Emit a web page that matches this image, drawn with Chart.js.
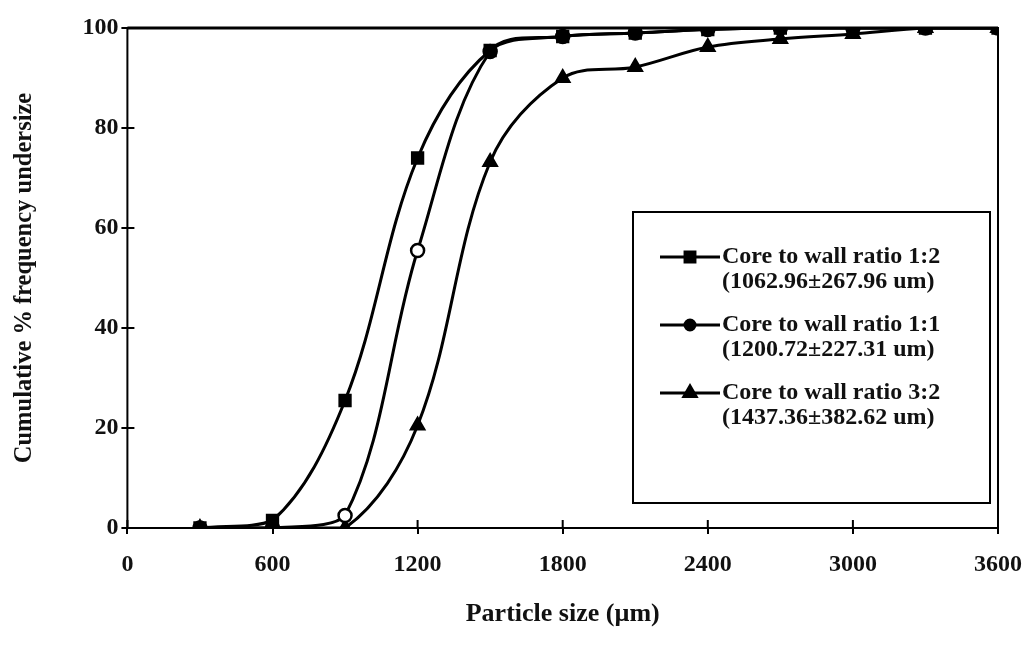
<!DOCTYPE html>
<html>
<head>
<meta charset="utf-8">
<script src="https://cdn.jsdelivr.net/npm/chart.js@4"></script>
<style>
  html, body { margin: 0; padding: 0; background: #fff; overflow: hidden; }
  #wrap { width: 1028px; height: 654px; position: relative; }
</style>
</head>
<body>
<div id="wrap"><canvas id="sizeChart"></canvas></div>
<script>
// particle size classes (um)
const sizes = [300, 600, 900, 1200, 1500, 1800, 2100, 2400, 2700, 3000, 3300, 3600];

// cumulative % undersize
const ratio12 = [0, 1.5, 25.5, 74, 95.5, 98.3, 99, 99.7, 100, 100, 100, 100];
const ratio11 = [0, 0, 2.5, 55.5, 95.3, 98.3, 99, 99.7, 100, 100, 100, 100];
const ratio32 = [0, 0, 0, 20.5, 73.2, 90, 92.2, 96.2, 97.8, 98.8, 100, 100];

const seriesLabels = [
    ['Core to wall ratio 1:2', '(1062.96\u00b1267.96 um)'],
    ['Core to wall ratio 1:1', '(1200.72\u00b1227.31 um)'],
    ['Core to wall ratio 3:2', '(1437.36\u00b1382.62 um)']
];

const xTicks = [0, 600, 1200, 1800, 2400, 3000, 3600];
const yTicks = [0, 20, 40, 60, 80, 100];

const FONT = "'Liberation Serif', 'Times New Roman', serif";

function toPoints(vals) {
    return sizes.map((s, i) => ({ x: s, y: vals[i] }));
}

// box round the plot, plus the inner half of each tick mark
const framePlugin = {
    id: 'frame',
    afterDatasetsDraw(chart) {
        const { ctx, chartArea: a, scales } = chart;
        ctx.save();
        ctx.strokeStyle = '#000';
        ctx.lineWidth = 2;
        ctx.strokeRect(a.left, a.top, a.right - a.left, a.bottom - a.top);
        ctx.lineWidth = 3;
        ctx.beginPath();
        ctx.moveTo(a.left, a.top);
        ctx.lineTo(a.right, a.top);
        ctx.stroke();
        ctx.lineWidth = 2;
        ctx.beginPath();
        xTicks.forEach(v => {
            const px = scales.x.getPixelForValue(v);
            ctx.moveTo(px, a.bottom);
            ctx.lineTo(px, a.bottom - 8);
        });
        yTicks.forEach(v => {
            const py = scales.y.getPixelForValue(v);
            ctx.moveTo(a.left, py);
            ctx.lineTo(a.left + 7, py);
        });
        ctx.stroke();
        ctx.restore();
    }
};

// legend drawn inside the plot, Excel style
const boxLegend = {
    id: 'boxLegend',
    afterDraw(chart, args, opts) {
        const { ctx } = chart;
        ctx.save();
        ctx.fillStyle = '#fff';
        ctx.fillRect(opts.left, opts.top, opts.width, opts.height);
        ctx.strokeStyle = '#000';
        ctx.lineWidth = 2;
        ctx.strokeRect(opts.left, opts.top, opts.width, opts.height);

        ctx.font = 'bold 24px ' + FONT;
        ctx.textBaseline = 'middle';
        chart.data.datasets.forEach((ds, i) => {
            const y = opts.top + opts.firstRow + i * opts.rowGap;
            const x0 = opts.left + 27;
            const x1 = x0 + 60;
            ctx.strokeStyle = '#000';
            ctx.lineWidth = 3;
            ctx.beginPath();
            ctx.moveTo(x0, y);
            ctx.lineTo(x1, y);
            ctx.stroke();
            ctx.fillStyle = '#000';
            Chart.helpers.drawPoint(ctx, {
                pointStyle: ds.pointStyle,
                radius: ds.pointStyle === 'circle' ? 5 : 7,
                borderWidth: 1
            }, (x0 + x1) / 2, y);
            ctx.fill();
            ctx.fillStyle = '#111';
            ctx.fillText(seriesLabels[i][0], x1 + 2, y);
            ctx.fillText(seriesLabels[i][1], x1 + 2, y + 25);
        });
        ctx.restore();
    }
};

const baseDs = {
    borderColor: '#000',
    borderWidth: 3,
    tension: 0.35,
    pointBorderColor: '#000',
    pointBorderWidth: 2,
    fill: false
};

const tickFont = { family: FONT, size: 24, weight: 'bold' };

new Chart(document.getElementById('sizeChart'), {
    type: 'line',
    data: {
        datasets: [
            Object.assign({}, baseDs, {
                label: seriesLabels[0].join(' '),
                data: toPoints(ratio12),
                pointStyle: 'rect',
                pointRadius: 8,
                pointBackgroundColor: '#000'
            }),
            Object.assign({}, baseDs, {
                label: seriesLabels[1].join(' '),
                data: toPoints(ratio11),
                pointStyle: 'circle',
                pointRadius: 6.5,
                pointBorderWidth: 2.5,
                pointBackgroundColor: '#fff'
            }),
            Object.assign({}, baseDs, {
                label: seriesLabels[2].join(' '),
                data: toPoints(ratio32),
                pointStyle: 'triangle',
                pointRadius: 8,
                pointBackgroundColor: '#000'
            })
        ]
    },
    options: {
        responsive: true,
        maintainAspectRatio: false,
        animation: false,
        layout: { padding: { top: 28, right: 30, bottom: 24, left: 10 } },
        plugins: {
            legend: { display: false },
            tooltip: { enabled: false },
            boxLegend: {
                left: 633, top: 212, width: 357, height: 291,
                firstRow: 45, rowGap: 68
            }
        },
        scales: {
            x: {
                type: 'linear',
                min: 0,
                max: 3600,
                afterBuildTicks: (axis) => { axis.ticks = xTicks.map(v => ({ value: v })); },
                afterFit: (axis) => { axis.paddingRight = 0; },
                grid: { drawOnChartArea: false, color: '#000', lineWidth: 2, tickLength: 6 },
                border: { display: false },
                ticks: { color: '#111', padding: 16, font: tickFont, callback: v => String(v) },
                title: {
                    display: true,
                    text: 'Particle size (\u00b5m)',
                    color: '#111',
                    padding: { top: 4, bottom: 0 },
                    font: { family: FONT, size: 26, weight: 'bold' }
                }
            },
            y: {
                min: 0,
                max: 100,
                afterBuildTicks: (axis) => { axis.ticks = yTicks.map(v => ({ value: v })); },
                grid: { drawOnChartArea: false, color: '#000', lineWidth: 2, tickLength: 6 },
                border: { display: false },
                ticks: { color: '#111', padding: 3, font: tickFont, callback: v => String(v) },
                title: {
                    display: true,
                    text: 'Cumulative % frequency undersize',
                    color: '#111',
                    padding: { top: 0, bottom: 40 },
                    font: { family: FONT, size: 24.5, weight: 'bold' }
                }
            }
        }
    },
    plugins: [framePlugin, boxLegend]
});
</script>
</body>
</html>
